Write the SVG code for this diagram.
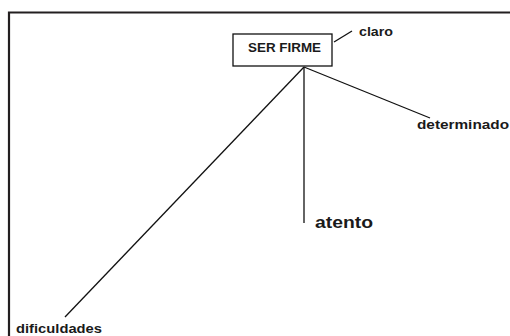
<svg xmlns="http://www.w3.org/2000/svg" width="510" height="336" viewBox="0 0 510 336">
<style>
.t{font-family:"Liberation Sans",Arial,sans-serif;font-weight:bold;fill:#1a1a1a}
.c{stroke:#111;stroke-width:1.3;fill:none}
.b{stroke:#231f20;stroke-width:2.2;fill:none}
</style>
<rect width="510" height="336" fill="#fff"/>
<path class="b" d="M9,336 V12.5 H510"/>
<g id="connectors">
<line class="c" x1="304" y1="67" x2="304" y2="223"/>
<line class="c" x1="304" y1="67" x2="430" y2="118"/>
<line class="c" x1="304" y1="67" x2="65" y2="317"/>
<line class="c" x1="334" y1="42" x2="352" y2="31"/>
</g>
<g id="ser-firme">
<rect x="233" y="34" width="99" height="32" fill="#fff" stroke="#111" stroke-width="1.3"/>
<text class="t" x="248" y="52" font-size="13" textLength="73" lengthAdjust="spacingAndGlyphs">SER FIRME</text>
</g>
<g id="claro"><text class="t" x="359" y="36" font-size="12" textLength="34" lengthAdjust="spacingAndGlyphs">claro</text></g>
<g id="determinado"><text class="t" x="417" y="129" font-size="13" textLength="92" lengthAdjust="spacingAndGlyphs">determinado</text></g>
<g id="atento"><text class="t" x="315" y="228" font-size="16" textLength="58" lengthAdjust="spacingAndGlyphs">atento</text></g>
<g id="dificuldades"><text class="t" x="16" y="333" font-size="13" textLength="86" lengthAdjust="spacingAndGlyphs">dificuldades</text></g>
</svg>
